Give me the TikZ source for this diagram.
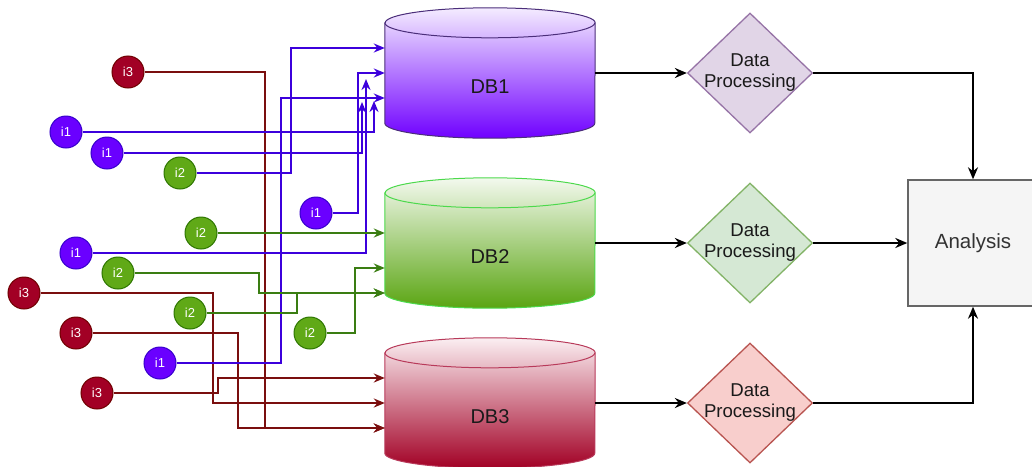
\documentclass[tikz,border=0pt]{standalone}
\usepackage{fontspec}
\setmainfont{Liberation Sans}
\usetikzlibrary{positioning,shapes.geometric,arrows.meta}
\definecolor{violine}{RGB}{60,0,220}
\definecolor{viofill}{HTML}{6A00FF}
\definecolor{viodraw}{HTML}{3700CC}
\definecolor{grnline}{RGB}{58,125,18}
\definecolor{grnfill}{HTML}{60A917}
\definecolor{grndraw}{HTML}{2D7600}
\definecolor{redline}{RGB}{122,14,14}
\definecolor{redfill}{HTML}{A20025}
\definecolor{reddraw}{HTML}{6F0000}
\definecolor{dbatop}{HTML}{F4ECFF}
\definecolor{dbabot}{HTML}{7000FF}
\definecolor{dbadraw}{HTML}{4B2E7A}
\definecolor{dbbtop}{HTML}{F3F9EE}
\definecolor{dbbbot}{HTML}{5AA512}
\definecolor{dbbdraw}{HTML}{4CD94C}
\definecolor{dbctop}{HTML}{FBEFF2}
\definecolor{dbcbot}{HTML}{A20025}
\definecolor{dbcdraw}{HTML}{B83A5A}
\definecolor{pafill}{HTML}{E1D5E7}
\definecolor{padraw}{HTML}{9673A6}
\definecolor{pbfill}{HTML}{D5E8D4}
\definecolor{pbdraw}{HTML}{82B366}
\definecolor{pcfill}{HTML}{F8CECC}
\definecolor{pcdraw}{HTML}{B85450}
\definecolor{txt}{HTML}{1A1A1A}

\begin{document}
\begin{tikzpicture}[x=1pt,y=-1pt,
    src/.style={circle,minimum size=32pt,inner sep=0pt,line width=1pt,text=white,font=\fontsize{13}{15}\selectfont},
    vio/.style={draw=violine,line width=2.2pt,-{Stealth[length=11pt,width=9pt]}},
    grn/.style={draw=grnline,line width=2.2pt,-{Stealth[length=11pt,width=9pt]}},
    red/.style={draw=redline,line width=2.2pt,-{Stealth[length=11pt,width=9pt]}},
    blk/.style={draw=black,line width=2pt,-{Stealth[length=12pt,width=10pt]}},
    dbbox/.style={rectangle,minimum width=210pt,minimum height=130pt,inner sep=0pt},
    dbtext/.style={text=txt,font=\fontsize{20}{24}\selectfont},
    proc/.style={diamond,minimum width=125pt,minimum height=120pt,inner sep=0pt,line width=1.3pt},
    proctext/.style={text=txt,align=center,font=\fontsize{18.6}{21}\selectfont},
    anbox/.style={rectangle,minimum width=130pt,minimum height=126pt,fill=black!4,draw=black!60,line width=1.4pt,text=black!80,font=\fontsize{20.5}{24}\selectfont}
  ]
    \useasboundingbox (0,0) rectangle (1032,466);

    \node[dbbox] (db1) at (490,73) {};
    \node[dbbox] (db2) at (490,243) {};
    \node[dbbox] (db3) at (490,403) {};

    \draw[draw=dbadraw,line width=1pt,top color=dbatop,bottom color=dbabot] ([yshift=-15pt]db1.north west) -- ([yshift=15pt]db1.south west) arc[start angle=180,end angle=360,x radius=105pt,y radius=15pt] -- ([yshift=-15pt]db1.north east) arc[start angle=0,end angle=180,x radius=105pt,y radius=15pt] -- cycle;
    \draw[draw=dbadraw,line width=1pt] ([yshift=-15pt]db1.north west) arc[start angle=180,end angle=360,x radius=105pt,y radius=15pt];
    \draw[draw=dbbdraw,line width=1pt,top color=dbbtop,bottom color=dbbbot] ([yshift=-15pt]db2.north west) -- ([yshift=15pt]db2.south west) arc[start angle=180,end angle=360,x radius=105pt,y radius=15pt] -- ([yshift=-15pt]db2.north east) arc[start angle=0,end angle=180,x radius=105pt,y radius=15pt] -- cycle;
    \draw[draw=dbbdraw,line width=1pt] ([yshift=-15pt]db2.north west) arc[start angle=180,end angle=360,x radius=105pt,y radius=15pt];
    \draw[draw=dbcdraw,line width=1pt,top color=dbctop,bottom color=dbcbot] ([yshift=-15pt]db3.north west) -- ([yshift=15pt]db3.south west) arc[start angle=180,end angle=360,x radius=105pt,y radius=15pt] -- ([yshift=-15pt]db3.north east) arc[start angle=0,end angle=180,x radius=105pt,y radius=15pt] -- cycle;
    \draw[draw=dbcdraw,line width=1pt] ([yshift=-15pt]db3.north west) arc[start angle=180,end angle=360,x radius=105pt,y radius=15pt];

    \node[dbtext] (db1t) at ([yshift=-14pt]db1.center) {DB1};
    \node[dbtext] (db2t) at ([yshift=-14pt]db2.center) {DB2};
    \node[dbtext] (db3t) at ([yshift=-14pt]db3.center) {DB3};

    \coordinate (db1in1) at ([yshift=25pt]db1.west);
    \coordinate (db1in2) at (db1.west);
    \coordinate (db1in3) at ([yshift=-25pt]db1.west);
    \coordinate (db2in1) at ([yshift=10pt]db2.west);
    \coordinate (db2in2) at ([yshift=-25pt]db2.west);
    \coordinate (db2in3) at ([yshift=-50pt]db2.west);
    \coordinate (db3in1) at ([yshift=25pt]db3.west);
    \coordinate (db3in2) at (db3.west);
    \coordinate (db3in3) at ([yshift=-25pt]db3.west);
    \coordinate (up1) at (374,101);
    \coordinate (up2) at (362,102);
    \coordinate (up3) at (366,79);

    \node[proc,fill=pafill,draw=padraw] (p1) at (750,73) {};
    \node[proc,fill=pbfill,draw=pbdraw] (p2) at (750,243) {};
    \node[proc,fill=pcfill,draw=pcdraw] (p3) at (750,403) {};
    \node[proctext] (p1t) at (p1) {Data\\Processing};
    \node[proctext] (p2t) at (p2) {Data\\Processing};
    \node[proctext] (p3t) at (p3) {Data\\Processing};

    \node[anbox] (an) at (973,243) {Analysis};

    \node[src,fill=viofill,draw=viodraw] (i1a) at (66,132) {i1};
    \node[src,fill=viofill,draw=viodraw] (i1b) at (107,153) {i1};
    \node[src,fill=viofill,draw=viodraw] (i1c) at (316,213) {i1};
    \node[src,fill=viofill,draw=viodraw] (i1d) at (76,253) {i1};
    \node[src,fill=viofill,draw=viodraw] (i1e) at (160,363) {i1};
    \node[src,fill=grnfill,draw=grndraw] (i2a) at (180,173) {i2};
    \node[src,fill=grnfill,draw=grndraw] (i2b) at (201,233) {i2};
    \node[src,fill=grnfill,draw=grndraw] (i2c) at (118,273) {i2};
    \node[src,fill=grnfill,draw=grndraw] (i2d) at (190,313) {i2};
    \node[src,fill=grnfill,draw=grndraw] (i2e) at (310,333) {i2};
    \node[src,fill=redfill,draw=reddraw] (i3a) at (128,72) {i3};
    \node[src,fill=redfill,draw=reddraw] (i3b) at (24,293) {i3};
    \node[src,fill=redfill,draw=reddraw] (i3c) at (76,333) {i3};
    \node[src,fill=redfill,draw=reddraw] (i3d) at (97,393) {i3};

    \draw[red] (i3a) -| (265,428) -- (db3in3);
    \draw[red] (i3b) -| (213,403) -- (db3in2);
    \draw[red] (i3c) -| (238,428) -- (db3in3);
    \draw[red] (i3d) -| (218,378) -- (db3in1);

    \draw[vio] (i2a) -| (291,48) -- (db1in1);
    \draw[vio] (i1c) -| (358,73) -- (db1in2);
    \draw[vio] (i1e) -| (281,98) -- (db1in3);
    \draw[vio] (i1a) -| (up1);
    \draw[vio] (i1b) -| (up2);
    \draw[vio] (i1d) -| (up3);

    \draw[grn] (i2b) -- (db2in1);
    \draw[grn] (i2c) -| (259,293) -- (db2in3);
    \draw[grn] (i2d) -| (297,293) -- (db2in3);
    \draw[grn] (i2e) -| (355,268) -- (db2in2);

    \draw[blk] (db1) -- (p1);
    \draw[blk] (db2) -- (p2);
    \draw[blk] (db3) -- (p3);
    \draw[blk] (p1) -| (an);
    \draw[blk] (p2) -- (an);
    \draw[blk] (p3) -| (an);
  \end{tikzpicture}
\end{document}
